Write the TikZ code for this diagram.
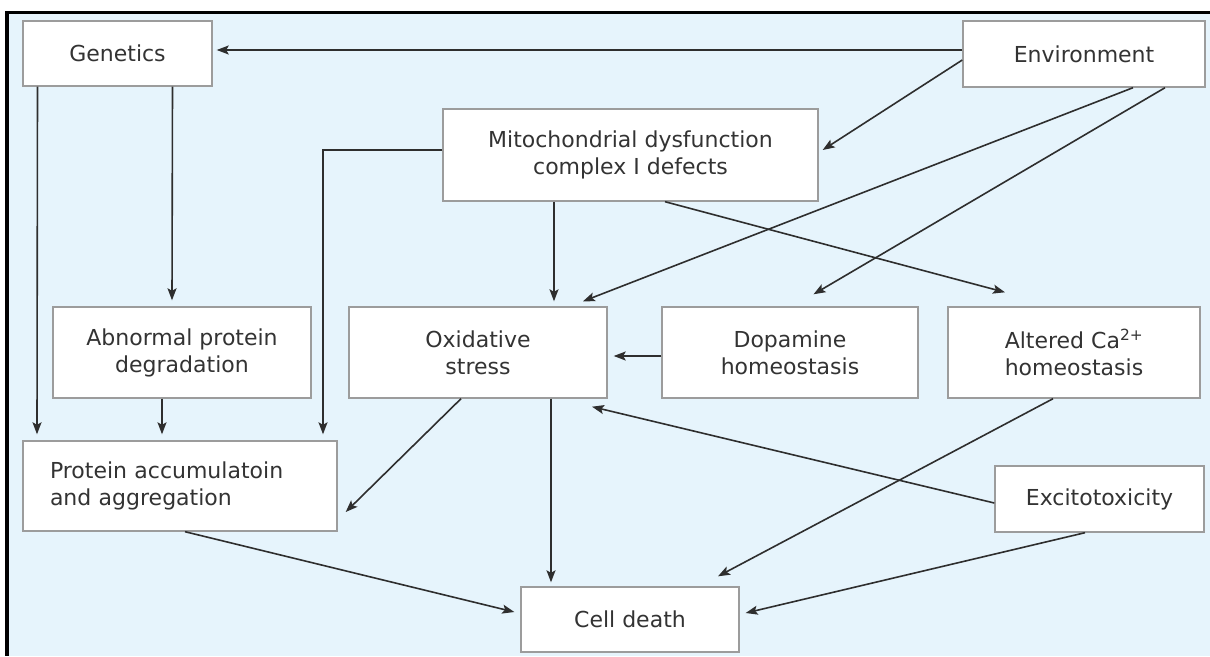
\documentclass[tikz,border=0pt]{standalone}
\usepackage{fontspec}
\setmainfont{DejaVu Sans}
\usetikzlibrary{arrows.meta}
\definecolor{bgblue}{HTML}{E6F4FC}
\definecolor{boxline}{HTML}{9C9C9C}
\definecolor{txt}{HTML}{333333}
\definecolor{arr}{HTML}{2E2E2E}
\tikzset{
  box/.style={draw=boxline, fill=white, line width=1.4pt, inner sep=0pt,
    text=txt, align=center, font=\fontsize{22}{27}\selectfont},
  link/.style={draw=arr, line width=1.6pt,
    -{Stealth[length=12pt,width=9pt,inset=2.5pt]}},
  frame/.style={line width=3.5pt, black}
}
\begin{document}
\begin{tikzpicture}[x=1pt,y=-1pt]
\useasboundingbox (0,0) rectangle (1210,656);
\fill[white] (0,0) rectangle (1210,656);
\fill[bgblue] (7,12.7) rectangle (1210,656);
\draw[frame] (1210,12.7) -- (5.25,12.7);
\draw[frame] (7,11) -- (7,656);

\node[box, minimum width=189pt, minimum height=65pt] (gen) at (117.5,53.5) {Genetics};
\node[box, minimum width=242pt, minimum height=66pt] (env) at (1084,54) {Environment};
\node[box, minimum width=375pt, minimum height=92pt] (mito) at (630.5,155) {Mitochondrial dysfunction\\complex I defects};
\node[box, minimum width=258pt, minimum height=91pt] (abn) at (182,352.5) {Abnormal protein\\degradation};
\node[box, minimum width=258pt, minimum height=91pt] (oxi) at (478,352.5) {Oxidative\\stress};
\node[box, minimum width=256pt, minimum height=91pt] (dop) at (790,352.5) {Dopamine\\homeostasis};
\node[box, minimum width=252pt, minimum height=91pt] (ca) at (1074,352.5) {Altered Ca\textsuperscript{2+}\\homeostasis};
\node[box, align=left, text width=260pt, inner xsep=27pt, minimum height=90pt] (acc) at (180,486) {Protein accumulatoin\\and aggregation};
\node[box, minimum width=209pt, minimum height=66pt] (exc) at (1099.5,499) {Excitotoxicity};
\node[box, minimum width=218pt, minimum height=65pt] (cd) at (630,619.5) {Cell death};

% connectors
\draw[link] ([yshift=4pt]env.west) -- ([xshift=4pt,yshift=3.5pt]gen.east);
\draw[link] ([yshift=-6pt]env.west) -- ([xshift=4pt,yshift=5pt]mito.east);
\draw[link] ([xshift=49pt]env.south) -- ([xshift=105pt,yshift=5pt]oxi.north);
\draw[link] ([xshift=81pt]env.south) -- ([xshift=23.5pt,yshift=12pt]dop.north);
\draw[link] ([xshift=-80pt]gen.south) -- ([xshift=-143pt,yshift=6pt]acc.north);
\draw[link] ([xshift=55pt]gen.south) -- ([xshift=-10pt,yshift=6pt]abn.north);
\draw[link] ([xshift=-20pt]abn.south) -- ([xshift=-18pt,yshift=6pt]acc.north);
\draw[link] ([yshift=5pt]mito.west) -| ([xshift=143pt,yshift=6pt]acc.north);
\draw[link] ([xshift=-76.5pt]mito.south) -- ([xshift=76pt,yshift=5pt]oxi.north);
\draw[link] ([xshift=34.5pt]mito.south) -- ([xshift=-69pt,yshift=14pt]ca.north);
\draw[link] ([yshift=-3.5pt]dop.west) -- ([xshift=6pt,yshift=-3.5pt]oxi.east);
\draw[link] ([xshift=-17pt]oxi.south) -- ([xshift=8pt,yshift=-26pt]acc.east);
\draw[link] ([xshift=73pt]oxi.south) -- ([xshift=-79pt,yshift=4pt]cd.north);
\draw[link] ([yshift=-4pt]exc.west) -- ([xshift=114pt,yshift=-8pt]oxi.south);
\draw[link] ([xshift=-21pt]ca.south) -- ([xshift=88pt,yshift=10pt]cd.north);
\draw[link] ([xshift=-14.5pt]exc.south) -- ([xshift=6pt,yshift=6.5pt]cd.east);
\draw[link] ([xshift=5pt]acc.south) -- ([xshift=-6pt,yshift=7.5pt]cd.west);
\end{tikzpicture}
\end{document}
